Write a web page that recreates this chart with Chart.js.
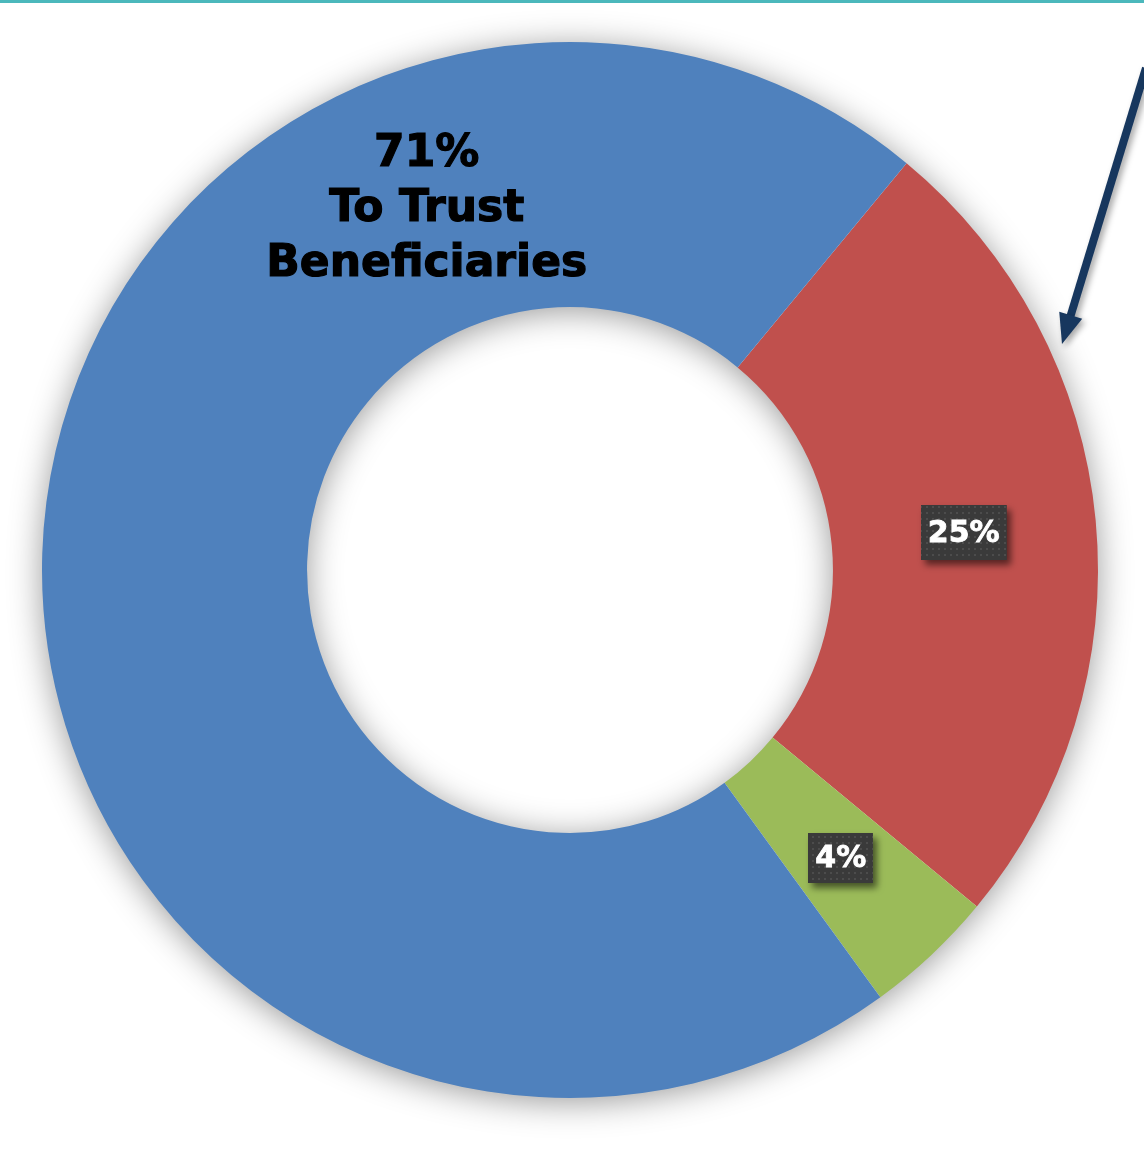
<!DOCTYPE html>
<html>
<head>
<meta charset="utf-8">
<script src="https://cdn.jsdelivr.net/npm/chart.js@4/dist/chart.umd.min.js"></script>
<style>
  html, body { margin: 0; padding: 0; background: #ffffff; }
  #wrap { position: relative; width: 1144px; height: 1153px; }
  canvas { display: block; }
</style>
</head>
<body>
<div id="wrap"><canvas id="c" width="1144" height="1153"></canvas></div>
<script>
// ---- data ----
const categories = ["Other", "Expenses", "To Trust Beneficiaries"];
const values = [25, 4, 71];
const labelTexts = ["25%", "4%", "71%\nTo Trust\nBeneficiaries"];
const colors = ["#C0504D", "#9BBB59", "#4F81BD"];

function makePattern(ctx) {
  const p = document.createElement('canvas');
  p.width = 6; p.height = 6;
  const pc = p.getContext('2d');
  pc.fillStyle = '#3a3a3a';
  pc.fillRect(0, 0, 6, 6);
  pc.fillStyle = '#4c4c4c';
  pc.fillRect(2, 2, 2, 2);
  return ctx.createPattern(p, 'repeat');
}

const decor = {
  id: 'decor',
  beforeDatasetsDraw(chart) {
    const ctx = chart.ctx;
    const arc = chart.getDatasetMeta(0).data[0];
    if (!arc) return;
    const { x, y, outerRadius, innerRadius } = arc.getProps(['x', 'y', 'outerRadius', 'innerRadius'], true);
    // top teal line
    ctx.save();
    ctx.fillStyle = '#4BB8BC';
    ctx.fillRect(0, 0, chart.width, 3);
    ctx.restore();
    // ring shadow
    ctx.save();
    ctx.shadowColor = 'rgba(0,0,0,0.42)';
    ctx.shadowBlur = 34;
    ctx.shadowOffsetX = 0;
    ctx.shadowOffsetY = 4;
    ctx.fillStyle = '#ffffff';
    ctx.beginPath();
    ctx.arc(x, y, outerRadius - 1, 0, Math.PI * 2);
    ctx.arc(x, y, innerRadius + 1, 0, Math.PI * 2, true);
    ctx.fill('evenodd');
    ctx.restore();
  },
  afterDatasetsDraw(chart) {
    const ctx = chart.ctx;
    const meta = chart.getDatasetMeta(0);
    const pattern = makePattern(ctx);
    // boxed labels for first two slices
    [0, 1].forEach(i => {
      const el = meta.data[i];
      const pos = el.tooltipPosition();
      const txt = labelTexts[i];
      ctx.save();
      ctx.font = 'bold 30px "DejaVu Sans", Verdana, sans-serif';
      const w = ctx.measureText(txt).width + 14;
      const h = i === 0 ? 55 : 50;
      const bx = Math.round(pos.x - w / 2), by = Math.round(pos.y - h / 2);
      ctx.shadowColor = 'rgba(0,0,0,0.55)';
      ctx.shadowBlur = 7;
      ctx.shadowOffsetX = 4;
      ctx.shadowOffsetY = 5;
      ctx.fillStyle = pattern;
      ctx.fillRect(bx, by, w, h);
      ctx.restore();
      ctx.save();
      ctx.font = 'bold 30px "DejaVu Sans", Verdana, sans-serif';
      ctx.fillStyle = '#ffffff';
      ctx.strokeStyle = '#ffffff';
      ctx.lineWidth = 0.8;
      ctx.textAlign = 'center';
      ctx.textBaseline = 'middle';
      ctx.fillText(txt, pos.x, pos.y + 1);
      ctx.strokeText(txt, pos.x, pos.y + 1);
      ctx.restore();
    });
    // big label for blue slice
    const blue = meta.data[2];
    const { x, y, outerRadius } = blue.getProps(['x', 'y', 'outerRadius'], true);
    const ang = (338.4 - 90) * Math.PI / 180;
    const r = outerRadius * 0.737;
    const lx = x + Math.cos(ang) * r;
    const ly = y + Math.sin(ang) * r;
    const lines = labelTexts[2].split('\n');
    ctx.save();
    ctx.font = 'bold 44px "DejaVu Sans", Verdana, sans-serif';
    ctx.fillStyle = '#000000';
    ctx.strokeStyle = '#000000';
    ctx.lineWidth = 1.2;
    ctx.textAlign = 'center';
    ctx.textBaseline = 'middle';
    const lh = 55;
    lines.forEach((ln, k) => {
      ctx.fillText(ln, lx, ly + (k - 1) * lh + 1);
      ctx.strokeText(ln, lx, ly + (k - 1) * lh + 1);
    });
    ctx.restore();
  },
  afterDraw(chart) {
    // arrow pointing at the red slice
    const ctx = chart.ctx;
    const x1 = 1146, y1 = 68, x2 = 1062, y2 = 344;
    const a = Math.atan2(y2 - y1, x2 - x1);
    const headLen = 30, headW = 12;
    const bx = x2 - Math.cos(a) * headLen, by = y2 - Math.sin(a) * headLen;
    ctx.save();
    ctx.shadowColor = 'rgba(0,0,0,0.35)';
    ctx.shadowBlur = 6;
    ctx.shadowOffsetX = 3;
    ctx.shadowOffsetY = 3;
    ctx.strokeStyle = '#17375E';
    ctx.fillStyle = '#17375E';
    ctx.lineWidth = 8;
    ctx.beginPath();
    ctx.moveTo(x1, y1);
    ctx.lineTo(bx + Math.cos(a) * 4, by + Math.sin(a) * 4);
    ctx.stroke();
    ctx.beginPath();
    ctx.moveTo(x2, y2);
    ctx.lineTo(bx + Math.cos(a + Math.PI / 2) * headW, by + Math.sin(a + Math.PI / 2) * headW);
    ctx.lineTo(bx + Math.cos(a - Math.PI / 2) * headW, by + Math.sin(a - Math.PI / 2) * headW);
    ctx.closePath();
    ctx.fill();
    ctx.restore();
  }
};

new Chart(document.getElementById('c'), {
  type: 'doughnut',
  data: {
    labels: categories,
    datasets: [{
      data: values,
      backgroundColor: colors,
      borderWidth: 0,
      hoverOffset: 0
    }]
  },
  options: {
    responsive: false,
    animation: false,
    rotation: 39.6,
    cutout: '49.8%',
    layout: { padding: { left: 42, right: 46, top: 42, bottom: 55 } },
    plugins: {
      legend: { display: false },
      tooltip: { enabled: false },
      title: { display: false }
    },
    events: []
  },
  plugins: [decor]
});
</script>
</body>
</html>
